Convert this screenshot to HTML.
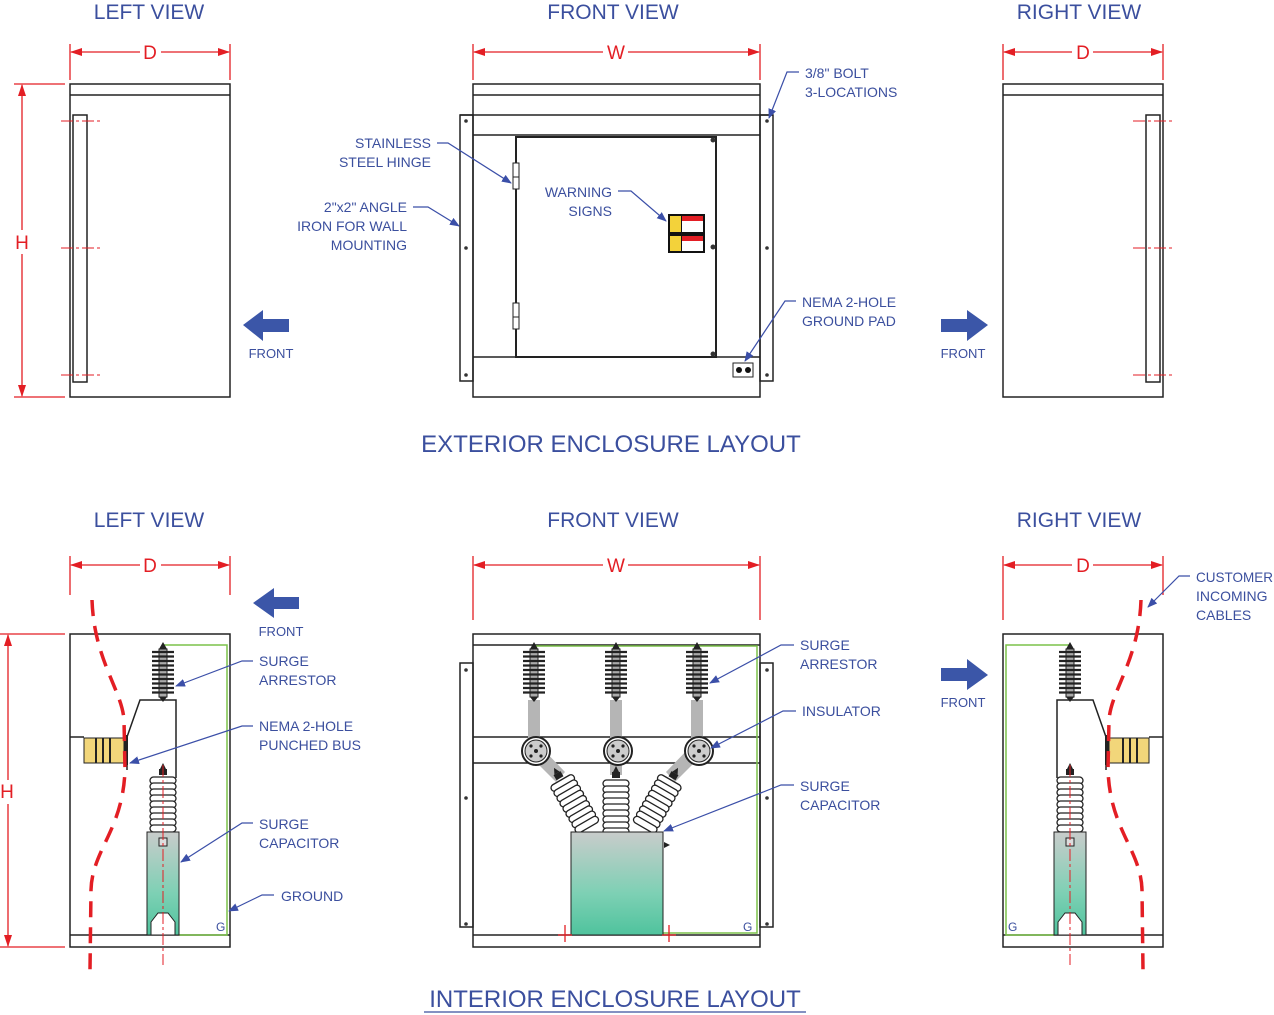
<!DOCTYPE html>
<html><head><meta charset="utf-8"><style>
html,body{margin:0;padding:0;background:#fff;}
svg{display:block;}
text{font-family:"Liberation Sans",Tahoma,sans-serif;fill:#3b4f9e;}
.t{font-size:21px;}
.tb{font-size:24px;}
.l{font-size:14px;}
.r{fill:#e31e24;font-size:19px;}
.k{fill:none;stroke:#222;stroke-width:1.5;}
.rd{stroke:#e31e24;stroke-width:1.3;fill:none;}
.bl{stroke:#3b4fa8;stroke-width:1.2;fill:none;}
.cab{stroke:#e31e24;stroke-width:3.5;fill:none;stroke-dasharray:16,10;}
.cl{stroke:#e31e24;stroke-width:1;stroke-dasharray:12,3,3,3;}
</style></head><body>
<svg width="1274" height="1015" viewBox="0 0 1274 1015" xmlns="http://www.w3.org/2000/svg">
<defs>
<marker id="ar" markerWidth="10" markerHeight="8" refX="9" refY="4" orient="auto" markerUnits="userSpaceOnUse"><path d="M0,0 L10,4 L0,8 z" fill="#3b4fa8"/></marker>
<marker id="ra" markerWidth="12" markerHeight="8" refX="11" refY="4" orient="auto" markerUnits="userSpaceOnUse"><path d="M0,0 L12,4 L0,8 z" fill="#e31e24"/></marker>
<linearGradient id="cap" x1="0" y1="0" x2="0" y2="1"><stop offset="0" stop-color="#c9cccb"/><stop offset="0.6" stop-color="#7dd0b4"/><stop offset="1" stop-color="#4fc39d"/></linearGradient>
<g id="arr">
<rect x="-4" y="6" width="8" height="48" fill="#aaa" stroke="#222"/>
<path d="M-4,6 L0,-1 L4,6z M-4,54 L0,59 L4,54z" fill="#222"/>
<g stroke="#222" stroke-width="2.2">
<line x1="-11" y1="9" x2="11" y2="9"/><line x1="-11" y1="13.5" x2="11" y2="13.5"/><line x1="-11" y1="18" x2="11" y2="18"/><line x1="-11" y1="22.5" x2="11" y2="22.5"/><line x1="-11" y1="27" x2="11" y2="27"/><line x1="-11" y1="31.5" x2="11" y2="31.5"/><line x1="-11" y1="36" x2="11" y2="36"/><line x1="-11" y1="40.5" x2="11" y2="40.5"/><line x1="-11" y1="45" x2="11" y2="45"/><line x1="-11" y1="49.5" x2="11" y2="49.5"/>
</g></g>
<g id="ins">
<path d="M-3,-8 L0,-14 L3,-8z" fill="#222"/>
<rect x="-4" y="-8" width="8" height="6" fill="#222"/>
<g fill="#fff" stroke="#222" stroke-width="1.3">
<rect x="-13" y="0" width="26" height="7" rx="3.5"/><rect x="-13" y="6" width="26" height="7" rx="3.5"/><rect x="-13" y="12" width="26" height="7" rx="3.5"/><rect x="-13" y="18" width="26" height="7" rx="3.5"/><rect x="-13" y="24" width="26" height="7" rx="3.5"/><rect x="-13" y="30" width="26" height="7" rx="3.5"/><rect x="-13" y="36" width="26" height="7" rx="3.5"/><rect x="-13" y="42" width="26" height="7" rx="3.5"/><rect x="-13" y="48" width="26" height="7" rx="3.5"/>
</g></g>
<g id="side">
<rect x="70" y="634" width="160" height="313" class="k"/>
<line x1="70" y1="935" x2="230" y2="935" class="k"/>
<path d="M163,645 H227 V935 H179" stroke="#7cc24a" stroke-width="1.5" fill="none"/>
<use href="#arr" x="163" y="643"/>
<path d="M176,778 V700 H140 L127,737 V770" class="k"/>
<line x1="70" y1="737" x2="84" y2="737" class="k"/>
<rect x="84" y="738" width="40" height="25" fill="#f2d67a" stroke="#222"/>
<g stroke="#222" stroke-width="2"><line x1="96" y1="738" x2="96" y2="763"/><line x1="103" y1="738" x2="103" y2="763"/><line x1="110" y1="738" x2="110" y2="763"/></g>
<rect x="124" y="735" width="4" height="30" fill="#222"/>
<use href="#ins" x="163" y="777"/>
<rect x="147" y="832" width="32" height="103" fill="url(#cap)" stroke="#222"/>
<rect x="159" y="838" width="8" height="8" fill="#ddd" stroke="#222"/>
<path d="M151,935 V922 L158,913 H168 L175,922 V935z" fill="#fff" stroke="#222"/>
<line x1="163" y1="765" x2="163" y2="965" class="cl"/>
<path d="M92,600 C94,660 122,690 124,720 L125,770 C123,830 92,850 91,890 L90,970" class="cab"/>
</g>
</defs>

<!-- TITLES -->
<text x="149" y="19" class="t" text-anchor="middle">LEFT VIEW</text>
<text x="613" y="19" class="t" text-anchor="middle">FRONT VIEW</text>
<text x="1079" y="19" class="t" text-anchor="middle">RIGHT VIEW</text>
<text x="611" y="452" class="tb" text-anchor="middle">EXTERIOR ENCLOSURE LAYOUT</text>
<text x="149" y="527" class="t" text-anchor="middle">LEFT VIEW</text>
<text x="613" y="527" class="t" text-anchor="middle">FRONT VIEW</text>
<text x="1079" y="527" class="t" text-anchor="middle">RIGHT VIEW</text>
<text x="615" y="1007" class="tb" text-anchor="middle">INTERIOR ENCLOSURE LAYOUT</text>
<line x1="424" y1="1012" x2="806" y2="1012" stroke="#3b4f9e" stroke-width="1.2"/>

<!-- dimensions top -->
<g class="rd">
<line x1="70" y1="44" x2="70" y2="80"/><line x1="230" y1="44" x2="230" y2="80"/>
<line x1="140" y1="52" x2="71" y2="52" marker-end="url(#ra)"/><line x1="161" y1="52" x2="229" y2="52" marker-end="url(#ra)"/>
<line x1="473" y1="44" x2="473" y2="80"/><line x1="760" y1="44" x2="760" y2="80"/>
<line x1="603" y1="52" x2="474" y2="52" marker-end="url(#ra)"/><line x1="628" y1="52" x2="759" y2="52" marker-end="url(#ra)"/>
<line x1="1003" y1="44" x2="1003" y2="80"/><line x1="1163" y1="44" x2="1163" y2="80"/>
<line x1="1072" y1="52" x2="1004" y2="52" marker-end="url(#ra)"/><line x1="1093" y1="52" x2="1162" y2="52" marker-end="url(#ra)"/>
<line x1="14" y1="84" x2="65" y2="84"/><line x1="14" y1="397" x2="65" y2="397"/>
<line x1="22" y1="230" x2="22" y2="85" marker-end="url(#ra)"/><line x1="22" y1="254" x2="22" y2="396" marker-end="url(#ra)"/>
</g>
<text x="150" y="59" class="r" text-anchor="middle">D</text>
<text x="616" y="59" class="r" text-anchor="middle">W</text>
<text x="1083" y="59" class="r" text-anchor="middle">D</text>
<text x="22" y="249" class="r" text-anchor="middle">H</text>

<!-- top left view -->
<rect x="70" y="84" width="160" height="313" class="k"/>
<line x1="70" y1="95" x2="230" y2="95" class="k"/>
<rect x="73" y="115" width="14" height="267" class="k"/>
<g class="cl"><line x1="61" y1="121" x2="100" y2="121"/><line x1="61" y1="248" x2="100" y2="248"/><line x1="61" y1="375" x2="100" y2="375"/></g>
<path d="M289,319 H263 V310 L243,325 L263,341 V332 H289z" fill="#3b56a8"/>
<text x="271" y="358" text-anchor="middle" style="font-size:13px">FRONT</text>

<!-- top right view -->
<rect x="1003" y="84" width="160" height="313" class="k"/>
<line x1="1003" y1="95" x2="1163" y2="95" class="k"/>
<rect x="1146" y="115" width="14" height="267" class="k"/>
<g class="cl"><line x1="1133" y1="121" x2="1172" y2="121"/><line x1="1133" y1="248" x2="1172" y2="248"/><line x1="1133" y1="375" x2="1172" y2="375"/></g>
<path d="M941,319 H967 V310 L988,325 L967,341 V332 H941z" fill="#3b56a8"/>
<text x="963" y="358" style="font-size:13px" text-anchor="middle">FRONT</text>

<!-- top front view -->
<rect x="460" y="115" width="13" height="266" class="k"/>
<rect x="760" y="115" width="13" height="266" class="k"/>
<rect x="473" y="84" width="287" height="313" class="k"/>
<line x1="473" y1="95" x2="760" y2="95" class="k"/>
<line x1="460" y1="115" x2="773" y2="115" class="k"/>
<line x1="473" y1="135" x2="760" y2="135" class="k"/>
<line x1="473" y1="357" x2="760" y2="357" class="k"/>
<rect x="516" y="137" width="200" height="220" fill="none" stroke="#222" stroke-width="2"/>
<g fill="#333"><circle cx="466" cy="121" r="1.8"/><circle cx="466" cy="248" r="1.8"/><circle cx="466" cy="375" r="1.8"/><circle cx="767" cy="121" r="1.8"/><circle cx="767" cy="248" r="1.8"/><circle cx="767" cy="375" r="1.8"/>
<circle cx="713" cy="140" r="2.5"/><circle cx="713" cy="247" r="2.5"/><circle cx="713" cy="354" r="2.5"/></g>
<rect x="513" y="163" width="6" height="14" fill="#fff" stroke="#222"/><rect x="513" y="177" width="6" height="12" fill="#fff" stroke="#222"/>
<rect x="513" y="303" width="6" height="14" fill="#fff" stroke="#222"/><rect x="513" y="317" width="6" height="12" fill="#fff" stroke="#222"/>
<rect x="668" y="214" width="37" height="39" fill="#111"/>
<rect x="670" y="216" width="11" height="16" fill="#f3d23a"/><rect x="682" y="216" width="21" height="5" fill="#e31e24"/><rect x="682" y="221" width="21" height="11" fill="#fff"/>
<rect x="670" y="236" width="11" height="15" fill="#f3d23a"/><rect x="682" y="236" width="21" height="5" fill="#e31e24"/><rect x="682" y="241" width="21" height="10" fill="#fff"/>
<rect x="733" y="363" width="20" height="14" fill="#fff" stroke="#222"/><circle cx="739" cy="370" r="3" fill="#111"/><circle cx="748" cy="370" r="3" fill="#111"/>

<!-- top labels -->
<text x="431" y="148" class="l" text-anchor="end">STAINLESS</text>
<text x="431" y="167" class="l" text-anchor="end">STEEL HINGE</text>
<path d="M437,143 H448 L511,183" class="bl" marker-end="url(#ar)"/>
<text x="407" y="212" class="l" text-anchor="end">2"x2" ANGLE</text>
<text x="407" y="231" class="l" text-anchor="end">IRON FOR WALL</text>
<text x="407" y="250" class="l" text-anchor="end">MOUNTING</text>
<path d="M413,207 H428 L459,226" class="bl" marker-end="url(#ar)"/>
<text x="612" y="197" class="l" text-anchor="end">WARNING</text>
<text x="612" y="216" class="l" text-anchor="end">SIGNS</text>
<path d="M618,191 H631 L666,221" class="bl" marker-end="url(#ar)"/>
<text x="805" y="78" class="l">3/8" BOLT</text>
<text x="805" y="97" class="l">3-LOCATIONS</text>
<path d="M799,72 H787 L769,118" class="bl" marker-end="url(#ar)"/>
<text x="802" y="307" class="l">NEMA 2-HOLE</text>
<text x="802" y="326" class="l">GROUND PAD</text>
<path d="M796,301 H785 L745,361" class="bl" marker-end="url(#ar)"/>

<!-- bottom dimensions -->
<g class="rd">
<line x1="70" y1="556" x2="70" y2="595"/><line x1="230" y1="556" x2="230" y2="595"/>
<line x1="140" y1="565" x2="71" y2="565" marker-end="url(#ra)"/><line x1="161" y1="565" x2="229" y2="565" marker-end="url(#ra)"/>
<line x1="473" y1="556" x2="473" y2="620"/><line x1="760" y1="556" x2="760" y2="620"/>
<line x1="603" y1="565" x2="474" y2="565" marker-end="url(#ra)"/><line x1="628" y1="565" x2="759" y2="565" marker-end="url(#ra)"/>
<line x1="1003" y1="556" x2="1003" y2="620"/><line x1="1163" y1="556" x2="1163" y2="595"/>
<line x1="1072" y1="565" x2="1004" y2="565" marker-end="url(#ra)"/><line x1="1093" y1="565" x2="1162" y2="565" marker-end="url(#ra)"/>
<line x1="0" y1="634" x2="65" y2="634"/><line x1="0" y1="947" x2="65" y2="947"/>
<line x1="8" y1="780" x2="8" y2="635" marker-end="url(#ra)"/><line x1="8" y1="804" x2="8" y2="946" marker-end="url(#ra)"/>
</g>
<text x="150" y="572" class="r" text-anchor="middle">D</text>
<text x="616" y="572" class="r" text-anchor="middle">W</text>
<text x="1083" y="572" class="r" text-anchor="middle">D</text>
<text x="7" y="798" class="r" text-anchor="middle">H</text>

<!-- bottom left & right -->
<use href="#side"/>
<g transform="translate(1233,0) scale(-1,1)"><use href="#side"/></g>
<text x="216" y="931" style="font-size:12px">G</text>
<text x="1008" y="931" style="font-size:12px">G</text>
<path d="M299,597 H274 V588 L253,603 L274,618 V609 H299z" fill="#3b56a8"/>
<text x="281" y="636" style="font-size:13px" text-anchor="middle">FRONT</text>
<path d="M941,668 H967 V659 L988,675 L967,690 V681 H941z" fill="#3b56a8"/>
<text x="963" y="707" style="font-size:13px" text-anchor="middle">FRONT</text>

<!-- bottom front -->
<rect x="460" y="663" width="13" height="264" class="k"/>
<rect x="760" y="663" width="13" height="264" class="k"/>
<rect x="473" y="634" width="287" height="313" class="k"/>
<line x1="473" y1="645" x2="760" y2="645" class="k"/>
<line x1="473" y1="737" x2="760" y2="737" class="k"/>
<line x1="473" y1="763" x2="760" y2="763" class="k"/>
<line x1="473" y1="935" x2="760" y2="935" class="k"/>
<g fill="#333"><circle cx="466" cy="670" r="1.8"/><circle cx="466" cy="798" r="1.8"/><circle cx="466" cy="924" r="1.8"/><circle cx="767" cy="670" r="1.8"/><circle cx="767" cy="798" r="1.8"/><circle cx="767" cy="924" r="1.8"/></g>
<path d="M534,646 H757 V933 H663" stroke="#7cc24a" stroke-width="1.5" fill="none"/>
<g fill="#b5b5b5">
<rect x="528" y="700" width="12" height="50"/><rect x="610" y="700" width="12" height="50"/><rect x="691" y="700" width="12" height="50"/>
<path d="M530,756 L540,746 L565,772 L556,782z"/><rect x="610" y="750" width="12" height="25"/><path d="M701,756 L691,746 L666,772 L675,782z"/>
</g>
<use href="#arr" x="534" y="643"/><use href="#arr" x="616" y="643"/><use href="#arr" x="697" y="643"/>
<g>
<circle cx="536" cy="751" r="14" fill="#fff" stroke="#222" stroke-width="2"/><circle cx="536" cy="751" r="11" fill="#ccc" stroke="#222"/>
<circle cx="618" cy="751" r="14" fill="#fff" stroke="#222" stroke-width="2"/><circle cx="618" cy="751" r="11" fill="#ccc" stroke="#222"/>
<circle cx="699" cy="751" r="14" fill="#fff" stroke="#222" stroke-width="2"/><circle cx="699" cy="751" r="11" fill="#ccc" stroke="#222"/>
<g fill="#222"><circle cx="536" cy="751" r="2"/><circle cx="531" cy="746" r="1.6"/><circle cx="541" cy="746" r="1.6"/><circle cx="531" cy="756" r="1.6"/><circle cx="541" cy="756" r="1.6"/>
<circle cx="618" cy="751" r="2"/><circle cx="613" cy="746" r="1.6"/><circle cx="623" cy="746" r="1.6"/><circle cx="613" cy="756" r="1.6"/><circle cx="623" cy="756" r="1.6"/>
<circle cx="699" cy="751" r="2"/><circle cx="694" cy="746" r="1.6"/><circle cx="704" cy="746" r="1.6"/><circle cx="694" cy="756" r="1.6"/><circle cx="704" cy="756" r="1.6"/></g>
</g>
<use href="#ins" transform="translate(561,780) rotate(-30)"/>
<use href="#ins" x="616" y="780"/>
<use href="#ins" transform="translate(671,780) rotate(30)"/>
<rect x="571" y="832" width="92" height="103" fill="url(#cap)" stroke="#222"/>
<path d="M664,842 L670,845 L664,848" fill="#222"/>
<g class="rd"><line x1="565" y1="925" x2="565" y2="942"/><line x1="558" y1="935" x2="572" y2="935"/><line x1="669" y1="925" x2="669" y2="942"/><line x1="662" y1="935" x2="676" y2="935"/></g>
<text x="743" y="931" style="font-size:12px">G</text>

<!-- bottom labels -->
<text x="259" y="666" class="l">SURGE</text><text x="259" y="685" class="l">ARRESTOR</text>
<path d="M253,661 H242 L176,686" class="bl" marker-end="url(#ar)"/>
<text x="259" y="731" class="l">NEMA 2-HOLE</text><text x="259" y="750" class="l">PUNCHED BUS</text>
<path d="M253,726 H242 L130,763" class="bl" marker-end="url(#ar)"/>
<text x="259" y="829" class="l">SURGE</text><text x="259" y="848" class="l">CAPACITOR</text>
<path d="M253,823 H242 L181,862" class="bl" marker-end="url(#ar)"/>
<text x="281" y="901" class="l">GROUND</text>
<path d="M274,895 H262 L229,911" class="bl" marker-end="url(#ar)"/>
<text x="800" y="650" class="l">SURGE</text><text x="800" y="669" class="l">ARRESTOR</text>
<path d="M794,645 H781 L710,683" class="bl" marker-end="url(#ar)"/>
<text x="802" y="716" class="l">INSULATOR</text>
<path d="M796,711 H783 L711,748" class="bl" marker-end="url(#ar)"/>
<text x="800" y="791" class="l">SURGE</text><text x="800" y="810" class="l">CAPACITOR</text>
<path d="M794,785 H781 L664,831" class="bl" marker-end="url(#ar)"/>
<text x="1196" y="582" class="l" textLength="77" lengthAdjust="spacingAndGlyphs">CUSTOMER</text><text x="1196" y="601" class="l">INCOMING</text><text x="1196" y="620" class="l">CABLES</text>
<path d="M1190,576 H1179 L1148,607" class="bl" marker-end="url(#ar)"/>
</svg>
</body></html>
